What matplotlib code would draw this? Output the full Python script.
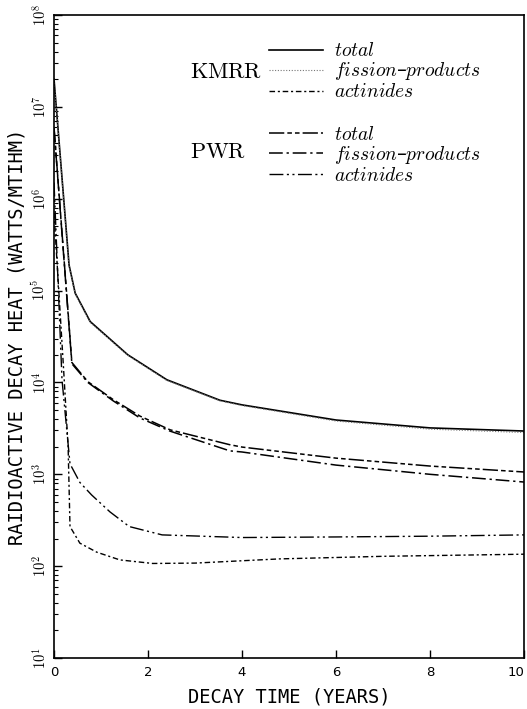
import numpy as np
import matplotlib
matplotlib.use("Agg")
import matplotlib.pyplot as plt
from matplotlib.lines import Line2D

plt.rcParams['mathtext.fontset'] = 'cm'

# ---------------- data ----------------
kmrr_total_t = [0, 0.32, 0.45, 0.77, 1.57, 2.4, 3.53, 4, 6, 8, 10]
kmrr_total_v = [2.0e7, 1.9e5, 9.4e4, 4.6e4, 2.0e4, 1.07e4, 6.4e3, 5.7e3, 3.9e3, 3.2e3, 2.96e3]

kmrr_fp_t = [0, 0.32, 0.45, 0.77, 1.57, 2.4, 3.53, 4, 6, 8, 10]
kmrr_fp_v = [1.95e7, 1.85e5, 9.2e4, 4.5e4, 1.97e4, 1.05e4, 6.3e3, 5.6e3, 3.8e3, 3.1e3, 2.85e3]

kmrr_act_t = [0, 0.2, 0.3, 0.34, 0.55, 0.91, 1.4, 2.1, 3.0, 4.8, 7, 10]
kmrr_act_v = [7e5, 1.5e4, 2.0e3, 270, 178, 142, 117, 107, 108, 120, 128, 135]

pwr_total_t = [0, 0.38, 0.72, 1.26, 1.83, 2.47, 3.74, 4, 6, 8, 10]
pwr_total_v = [6e6, 1.65e4, 1.02e4, 6.5e3, 4.3e3, 3.05e3, 2.1e3, 1.98e3, 1.5e3, 1.23e3, 1.06e3]

pwr_fp_t = [0, 0.38, 0.72, 1.26, 1.83, 2.47, 3.74, 4, 6, 8, 10]
pwr_fp_v = [5.8e6, 1.6e4, 1.0e4, 6.3e3, 4.1e3, 2.95e3, 1.8e3, 1.75e3, 1.26e3, 1.0e3, 824]

pwr_act_t = [0, 0.17, 0.34, 0.55, 0.8, 1.19, 1.6, 2.3, 4, 6, 8, 10]
pwr_act_v = [1.5e6, 1.07e4, 1.3e3, 816, 596, 390, 270, 219, 205, 208, 212, 219]

xticks = [0, 2, 4, 6, 8, 10]
yticks = [1e1, 1e2, 1e3, 1e4, 1e5, 1e6, 1e7, 1e8]
ytick_labels = [r'$10^{1}$', r'$10^{2}$', r'$10^{3}$', r'$10^{4}$',
                r'$10^{5}$', r'$10^{6}$', r'$10^{7}$', r'$10^{8}$']

# ---------------- figure ----------------
fig = plt.figure(figsize=(5.27, 7.09), dpi=100)
ax = fig.add_axes([0.1025, 0.0719, 0.8918, 0.9069])

ls_kt = '-'
ls_kf = (0, (1, 1.5))
ls_ka = (0, (4, 2, 1.5, 2))
ls_pt = (0, (10, 2, 3, 2, 3, 2))
ls_pf = (0, (9, 2.5, 1.5, 2.5))
ls_pa = (0, (10, 2.5, 1.5, 2.5, 1.5, 2.5))

ax.plot(kmrr_total_t, kmrr_total_v, color='black', lw=1.2, ls=ls_kt)
ax.plot(kmrr_fp_t, kmrr_fp_v, color='#777777', lw=0.8, ls=ls_kf)
ax.plot(kmrr_act_t, kmrr_act_v, color='black', lw=1.0, ls=ls_ka)
ax.plot(pwr_total_t, pwr_total_v, color='black', lw=1.1, ls=ls_pt)
ax.plot(pwr_fp_t, pwr_fp_v, color='black', lw=1.1, ls=ls_pf)
ax.plot(pwr_act_t, pwr_act_v, color='black', lw=1.0, ls=ls_pa)

ax.set_yscale('log')
ax.set_xlim(0, 10)
ax.set_ylim(1e1, 1e8)
ax.set_xticks(xticks)
xl = ax.set_xticklabels([str(v) for v in xticks], fontsize=9.5)
xl[-1].set_horizontalalignment('right')
ax.set_yticks(yticks)
ax.set_yticklabels(ytick_labels, fontsize=10.5, rotation=90, va='center')
ax.tick_params(axis='both', which='major', direction='in', length=6, width=1.0)
ax.tick_params(axis='y', which='minor', direction='in', length=3, width=0.8)
ax.tick_params(axis='y', which='major', pad=4)
ax.tick_params(axis='x', which='major', pad=6)
for s in ax.spines.values():
    s.set_linewidth(1.2)

ax.set_xlabel('DECAY TIME (YEARS)', fontsize=13.5, family='DejaVu Sans Mono',
              labelpad=6)
ax.set_ylabel('RAIDIOACTIVE DECAY HEAT (WATTS/MTIHM)', fontsize=13.5,
              family='DejaVu Sans Mono', labelpad=3)

# ---------------- legends ----------------
labels = [r'$\mathit{total}$', r'$\mathit{fission}$' + '–' + r'$\mathit{products}$',
          r'$\mathit{actinides}$']
h1 = [Line2D([], [], color='black', lw=1.2, ls=ls_kt),
      Line2D([], [], color='#777777', lw=0.8, ls=ls_kf),
      Line2D([], [], color='black', lw=1.0, ls=ls_ka)]
h2 = [Line2D([], [], color='black', lw=1.1, ls=ls_pt),
      Line2D([], [], color='black', lw=1.1, ls=ls_pf),
      Line2D([], [], color='black', lw=1.0, ls=ls_pa)]
common = dict(frameon=False, loc='upper left', fontsize=14, handlelength=2.8,
              handletextpad=0.55, labelspacing=0.0, borderpad=0, borderaxespad=0)
leg1 = ax.legend(h1, labels, bbox_to_anchor=(0.457, 0.959), **common)
ax.add_artist(leg1)
leg2 = ax.legend(h2, labels, bbox_to_anchor=(0.457, 0.829), **common)

ax.text(0.29, 0.912, r'$\mathrm{KMRR}$', transform=ax.transAxes, fontsize=16,
        ha='left', va='center')
ax.text(0.29, 0.787, r'$\mathrm{PWR}$', transform=ax.transAxes, fontsize=16,
        ha='left', va='center')

fig.savefig('out.png', dpi=100)
